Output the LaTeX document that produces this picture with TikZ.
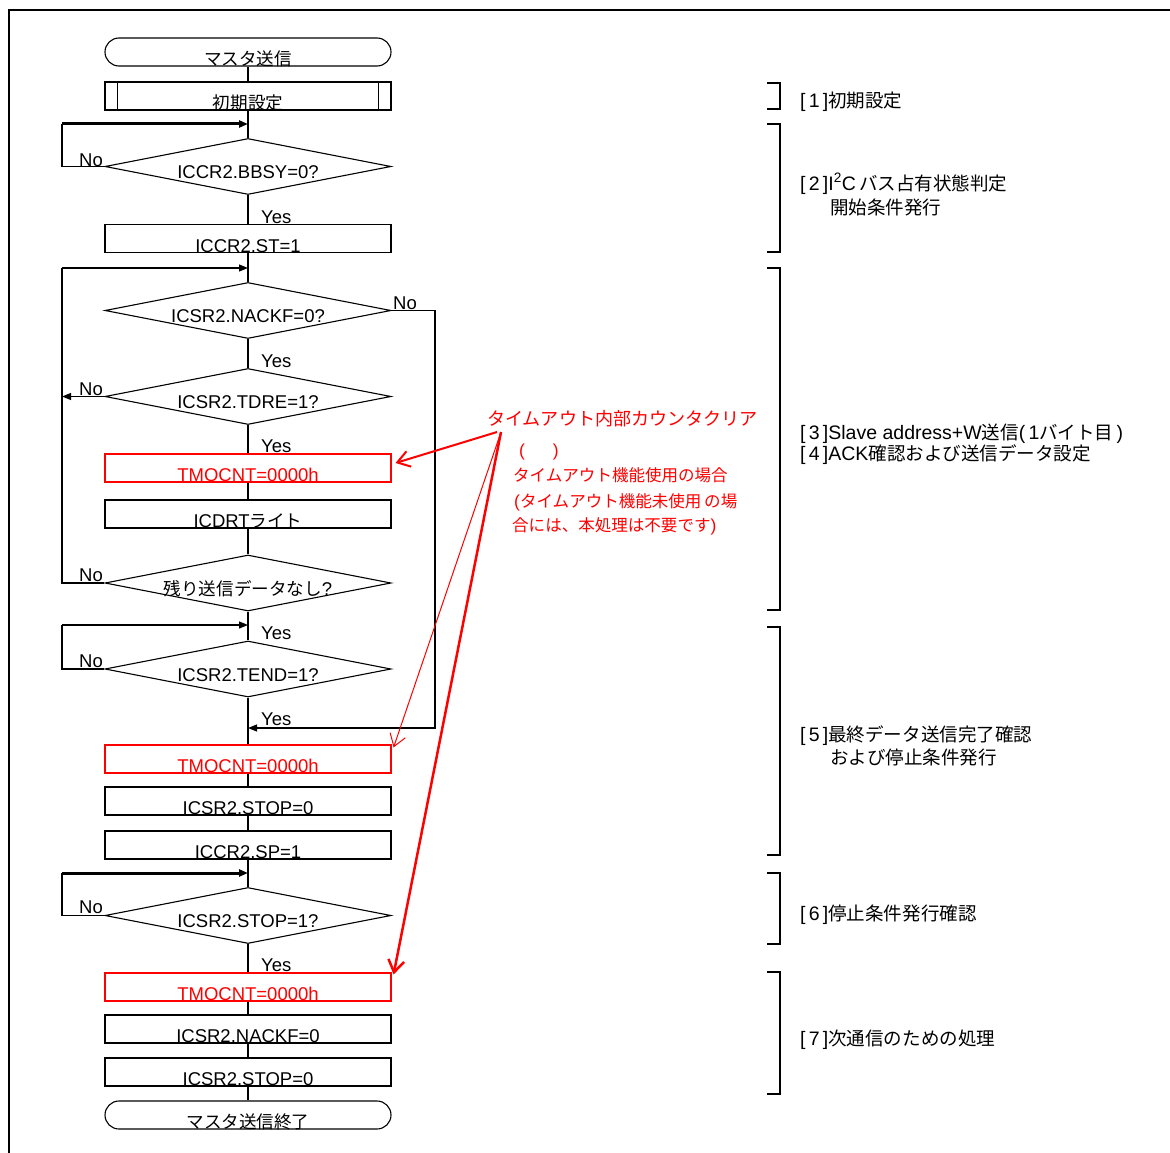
\documentclass[tikz,border=0pt]{standalone}
\usepackage{fontspec}
\setmainfont{Liberation Sans}
\newfontfamily\jp[Scale=0.95]{Noto Sans CJK JP}
\usetikzlibrary{shapes.geometric,shapes.misc,arrows.meta,calc}
\newcommand\J[1]{{\jp #1}}
\newcommand\mainfs{\fontsize{18.5}{20}\selectfont}
\newcommand\rfs{\fontsize{19.5}{22}\selectfont}
\begin{document}
\begin{tikzpicture}[x=1pt,y=-1pt,
  proc/.style={draw, line width=1.1pt, rectangle, minimum width=286pt, minimum height=28pt,
    inner sep=0pt, text height=27.5pt, text depth=0.5pt, font=\mainfs},
  redproc/.style={proc, draw=red, text=red},
  term/.style={proc, rounded corners=14pt},
  dec/.style={draw, diamond, line width=1.1pt, minimum width=286pt, minimum height=56pt, inner sep=0pt},
  dtxt/.style={font=\mainfs, anchor=base, inner sep=0pt},
  yn/.style={font=\mainfs, anchor=base west, inner sep=0pt},
  flow/.style={line width=1.1pt},
  arr/.style={flow, -{Triangle[length=9pt,width=7pt]}},
  tharr/.style={line width=3pt, -{Triangle[length=9pt,width=7pt]}},
  bracket/.style={line width=2pt},
  rtxt/.style={font=\rfs, anchor=base west, inner sep=0pt},
  redtxt/.style={font=\fontsize{17.4}{19}\selectfont, text=red, anchor=base west, inner sep=0pt},
  redarr/.style={draw=red, -{Straight Barb[length=12pt,width=16pt]}}
]
\useasboundingbox (0,0) rectangle (1170,1153);
% frame
\draw[line width=1.6pt] (9,1153) -- (9,10) -- (1170,10);

% ---- flowchart nodes ----
\node[term] (t1) at (248,52) {\J{マスタ送信}};
\node[proc] (init) at (248,96) {\J{初期設定}};
\draw[line width=1.1pt] ([xshift=13pt]init.north west) -- ([xshift=13pt]init.south west);
\draw[line width=1.1pt] ([xshift=-13pt]init.north east) -- ([xshift=-13pt]init.south east);

\node[dec] (d1) at (248,166.5) {};
\node[dtxt] (d1t) at ($(d1.center)+(0,12)$) {ICCR2.BBSY=0?};
\node[proc] (st) at (248,238.5) {ICCR2.ST=1};

\node[dec] (d2) at (248,310.5) {};
\node[dtxt] (d2t) at ($(d2.center)+(0,12)$) {ICSR2.NACKF=0?};
\node[dec] (d3) at (248,396.5) {};
\node[dtxt] (d3t) at ($(d3.center)+(0,12)$) {ICSR2.TDRE=1?};
\node[redproc] (r1) at (248,468) {TMOCNT=0000h};
\node[proc] (icdrt) at (248,514) {ICDRT\J{ライト}};
\node[dec] (d4) at (248,583) {};
\node[dtxt] (d4t) at ($(d4.center)+(0,12)$) {\J{残り送信データなし}?};
\node[dec] (d5) at (248,669) {};
\node[dtxt] (d5t) at ($(d5.center)+(0,12)$) {ICSR2.TEND=1?};
\node[redproc] (r2) at (248,759) {TMOCNT=0000h};
\node[proc] (stop0) at (248,801) {ICSR2.STOP=0};
\node[proc] (sp) at (248,845) {ICCR2.SP=1};
\node[dec] (d6) at (248,915.5) {};
\node[dtxt] (d6t) at ($(d6.center)+(0,12)$) {ICSR2.STOP=1?};
\node[redproc] (r3) at (248,987) {TMOCNT=0000h};
\node[proc] (nack0) at (248,1029) {ICSR2.NACKF=0};
\node[proc] (stop0b) at (248,1072) {ICSR2.STOP=0};
\node[term] (t2) at (248,1115) {\J{マスタ送信終了}};

% ---- coordinates for loops ----
\coordinate (l1) at (62,124);  \coordinate (j1) at (248,124);
\coordinate (l2) at (62,268);  \coordinate (j2) at (248,268);
\coordinate (l3) at (62,625);  \coordinate (j3) at (248,625);
\coordinate (l4) at (62,873);  \coordinate (j4) at (248,873);
\coordinate (c5) at (435,728); \coordinate (j5) at (248,728);

% ---- connectors ----
\draw[flow] (t1) -- (init);
\draw[flow] (init) -- (d1);
\draw[flow] (d1.west) -- (d1.west -| l1) -- (l1);
\draw[tharr] (l1) -- (j1);
\draw[flow] (d1) -- (st);
\draw[flow] (st) -- (d2);
\draw[flow] (d4.west) -- (d4.west -| l2) -- (l2);
\draw[arr] (l2) -- (j2);
\draw[flow] (d2) -- (d3);
\draw[arr] (d2.east) -| (c5) -- (j5);
\draw[arr] (d3.west) -- (d3.west -| l2);
\draw[flow] (d3) -- (r1);
\draw[flow] (r1) -- (icdrt);
\draw[flow] (icdrt) -- (d4);
\draw[flow] (d4) -- (d5);
\draw[flow] (d5.west) -- (d5.west -| l3) -- (l3);
\draw[arr] (l3) -- (j3);
\draw[flow] (d5) -- (r2);
\draw[flow] (r2) -- (stop0);
\draw[flow] (stop0) -- (sp);
\draw[flow] (sp) -- (d6);
\draw[flow] (d6.west) -- (d6.west -| l4) -- (l4);
\draw[tharr] (l4) -- (j4);
\draw[flow] (d6) -- (r3);
\draw[flow] (r3) -- (nack0);
\draw[flow] (nack0) -- (stop0b);
\draw[flow] (stop0b) -- (t2);

% ---- Yes / No labels ----
\node[yn] (n1) at (79,166) {No};
\node[yn] (y1) at (261,223) {Yes};
\node[yn] (n2) at (393,309) {No};
\node[yn] (y2) at (261,367) {Yes};
\node[yn] (n3) at (79,395) {No};
\node[yn] (y3) at (261,452) {Yes};
\node[yn] (n4) at (79,581) {No};
\node[yn] (y4) at (261,639) {Yes};
\node[yn] (n5) at (79,667) {No};
\node[yn] (y5) at (261,725) {Yes};
\node[yn] (n6) at (79,913) {No};
\node[yn] (y6) at (261,971) {Yes};

% ---- red annotation ----
\node[redtxt, font=\fontsize{19}{21}\selectfont] (ann) at (487,425) {\J{タイムアウト内部カウンタクリア}};
\node[redtxt] (annp) at (519,456) {(\hspace{28pt})};
\node[redtxt] (ann1) at (513,481) {\J{タイムアウト機能使用の場合}};
\node[redtxt] (ann2) at (514,507) {(\J{タイムアウト機能未使用\,の場}};
\node[redtxt] (ann3) at (512,531) {\J{合には、本処理は不要です})};
\coordinate (a0) at (497,432);
\coordinate (a1) at (501,432);
\draw[redarr, line width=2pt] (a0) -- ($(r1.east)+(4,-5)$);
\draw[redarr, line width=1pt] (a1) -- ($(r2.north east)+(2,3)$);
\draw[redarr, line width=2.5pt] (a1) -- ($(r3.north east)+(2,2)$);

% ---- right brackets ----
\draw[bracket] (767,83) -- (780,83) -- (780,109) -- (767,109);
\draw[bracket] (767,124) -- (780,124) -- (780,252) -- (767,252);
\draw[bracket] (767,268) -- (780,268) -- (780,610) -- (767,610);
\draw[bracket] (767,627) -- (780,627) -- (780,855) -- (767,855);
\draw[bracket] (767,873) -- (780,873) -- (780,944) -- (767,944);
\draw[bracket] (767,972) -- (780,972) -- (780,1094) -- (767,1094);

% ---- right labels ----
\node[rtxt] (lab1) at (800,108) {[\,1\,]\J{初期設定}};
\node[rtxt] (lab2) at (800,190) {[\,2\,]I\textsuperscript{2}C\,\J{バス占有状態判定}};
\node[rtxt] (lab2b) at (830,214) {\J{開始条件発行}};
\node[rtxt] (lab3) at (800,439) {[\,3\,]Slave address+W\J{送信}(\,1\J{バイト目}\,)};
\node[rtxt] (lab4) at (800,460) {[\,4\,]ACK\J{確認および送信データ設定}};
\node[rtxt] (lab5) at (800,741) {[\,5\,]\J{最終データ送信完了確認}};
\node[rtxt] (lab5b) at (830,764) {\J{および停止条件発行}};
\node[rtxt] (lab6) at (800,920) {[\,6\,]\J{停止条件発行確認}};
\node[rtxt] (lab7) at (800,1045) {[\,7\,]\J{次通信のための処理}};
\end{tikzpicture}
\end{document}
